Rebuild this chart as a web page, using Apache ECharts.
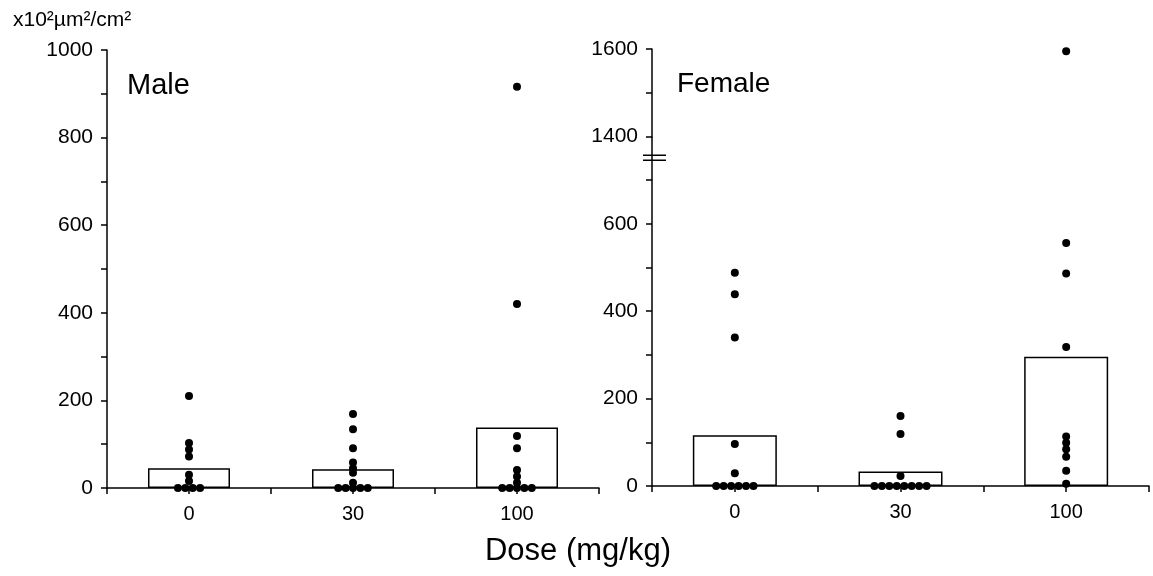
<!DOCTYPE html>
<html>
<head>
<meta charset="utf-8">
<script src="https://cdn.jsdelivr.net/npm/echarts@6/dist/echarts.min.js"></script>
<style>
  html, body { margin: 0; padding: 0; background: #fff; }
  #chart { width: 1153px; height: 576px; }
</style>
</head>
<body>
<div id="chart"></div>
<script>
// Dose groups (x categories)
const doses = ['0', '30', '100'];

// Bar heights (group values), x10^2 µm²/cm²
const maleBars = [45, 43, 138];
const femaleBars = [116, 33, 296];

// Individual animals, one list per dose group
const maleDots0 = [210, 103, 88, 72, 30, 16, 0, 0, 0, 0];
const maleDots30 = [169, 134, 91, 58, 45, 35, 12, 0, 0, 0, 0, 0];
const maleDots100 = [916, 420, 119, 91, 41, 26, 12, 0, 0, 0, 0, 0];
const femaleDots0 = [488, 439, 340, 96, 29, 0, 0, 0, 0, 0, 0];
const femaleDots30 = [160, 119, 23, 0, 0, 0, 0, 0, 0, 0, 0];
const femaleDots100 = [1595, 556, 486, 318, 113, 99, 84, 67, 35, 5];

// Labelled y ticks
const maleYLabels = [0, 200, 400, 600, 800, 1000];
const femaleYLabels = [0, 200, 400, 600, 1400, 1600];

// Female axis break: values between start and end are cut out,
// leaving a gap the size of 100 units on the axis
const femaleBreak = { start: 700, end: 1400, gap: 100 };

const FONT = 'Liberation Sans, Arial, sans-serif';
const DOT_STEP = 0.045; // horizontal spacing of tied zero values, in category units

// Place each dot at its dose position; zero values sit side by side in a row.
function dotPoints(groups) {
  const pts = [];
  groups.forEach((vals, gi) => {
    const zeros = vals.filter(v => v === 0).length;
    let z = 0;
    vals.forEach(v => {
      if (v === 0) {
        pts.push([gi + 1 + (z - (zeros - 1) / 2) * DOT_STEP, v]);
        z++;
      } else {
        pts.push([gi + 1, v]);
      }
    });
  });
  return pts;
}

function barPoints(vals) {
  return vals.map((v, i) => [i + 1, v]);
}

function xAxisFor(gridIndex) {
  return {
    type: 'value', gridIndex,
    min: 0.5, max: 3.5, interval: 0.5,
    splitLine: { show: false },
    axisLine: { show: true, onZero: false, lineStyle: { color: '#000', width: 1.5 } },
    axisTick: { show: true, length: 6, lineStyle: { color: '#000', width: 1.5 } },
    axisLabel: {
      margin: 16, color: '#000', fontFamily: FONT, fontSize: 20,
      showMinLabel: true, showMaxLabel: true,
      formatter: v => {
        const i = Math.round(v);
        return Math.abs(v - i) < 1e-6 && i >= 1 && i <= 3 ? doses[i - 1] : '';
      }
    }
  };
}

function yAxisFor(gridIndex, labels, extra) {
  return Object.assign({
    type: 'value', gridIndex,
    min: 0, interval: 100,
    splitLine: { show: false },
    axisLine: { show: true, lineStyle: { color: '#000', width: 1.5 } },
    axisTick: { show: true, length: 6, lineStyle: { color: '#000', width: 1.5 } },
    axisLabel: {
      margin: 14, color: '#000', fontFamily: FONT, fontSize: 21,
      formatter: v => labels.indexOf(Math.round(v)) >= 0 && Math.abs(v - Math.round(v)) < 1e-6 ? String(Math.round(v)) : ''
    }
  }, extra);
}

const barStyle = { color: 'rgba(255,255,255,0)', borderColor: '#000', borderWidth: 1.5 };
const dotStyle = { color: '#000', opacity: 1 };

const chart = echarts.init(document.getElementById('chart'));

const textGraphics = [
  { type: 'text', id: 'unit', left: 13, top: 10,
    style: { text: 'x10²µm²/cm²', font: '21px ' + FONT, fill: '#000' } },
  { type: 'text', id: 'male', x: 127, y: 86,
    style: { text: 'Male', font: '29px ' + FONT, fill: '#000', verticalAlign: 'middle' } },
  { type: 'text', id: 'female', x: 677, y: 84,
    style: { text: 'Female', font: '28px ' + FONT, fill: '#000', verticalAlign: 'middle' } },
  { type: 'text', id: 'dose', x: 578, y: 551,
    style: { text: 'Dose (mg/kg)', font: '31px ' + FONT, fill: '#000', align: 'center', verticalAlign: 'middle' } }
];

chart.setOption({
  animation: false,
  backgroundColor: '#fff',
  grid: [
    { left: 107, right: 554, top: 50, bottom: 88, outerBoundsMode: 'none' },
    { left: 652, right: 4, top: 49, bottom: 90, outerBoundsMode: 'none' }
  ],
  xAxis: [xAxisFor(0), xAxisFor(1)],
  yAxis: [
    yAxisFor(0, maleYLabels, { max: 1000 }),
    yAxisFor(1, femaleYLabels, {
      max: 1600,
      breaks: [{ start: femaleBreak.start, end: femaleBreak.end, gap: femaleBreak.gap }],
      breakArea: { show: false }
    })
  ],
  series: [
    { type: 'bar', name: 'Male mean', xAxisIndex: 0, yAxisIndex: 0, barWidth: 82,
      data: barPoints(maleBars), itemStyle: barStyle, z: 2 },
    { type: 'scatter', name: 'Male', xAxisIndex: 0, yAxisIndex: 0, symbolSize: 8,
      data: dotPoints([maleDots0, maleDots30, maleDots100]), itemStyle: dotStyle, z: 3 },
    { type: 'bar', name: 'Female mean', xAxisIndex: 1, yAxisIndex: 1, barWidth: 84,
      data: barPoints(femaleBars), itemStyle: barStyle, z: 2 },
    { type: 'scatter', name: 'Female', xAxisIndex: 1, yAxisIndex: 1, symbolSize: 8,
      data: dotPoints([femaleDots0, femaleDots30, femaleDots100]), itemStyle: dotStyle, z: 3 }
  ],
  graphic: textGraphics
});

// Axis line through the break gap, with the "=" break mark across it
const yLow = chart.convertToPixel({ yAxisIndex: 1 }, femaleBreak.start);
const yHigh = chart.convertToPixel({ yAxisIndex: 1 }, femaleBreak.end);
const breakY = (yLow + yHigh) / 2;
const axisX = chart.convertToPixel({ xAxisIndex: 1 }, 0.5);
chart.setOption({
  graphic: textGraphics.concat([
    { type: 'line', id: 'gapAxis', z: 100,
      shape: { x1: axisX, y1: yHigh, x2: axisX, y2: yLow },
      style: { stroke: '#000', lineWidth: 1.5 } },
    { type: 'line', id: 'brk1', z: 100,
      shape: { x1: axisX - 9, y1: breakY - 3, x2: axisX + 14, y2: breakY - 3 },
      style: { stroke: '#000', lineWidth: 1.5 } },
    { type: 'line', id: 'brk2', z: 100,
      shape: { x1: axisX - 9, y1: breakY + 2, x2: axisX + 14, y2: breakY + 2 },
      style: { stroke: '#000', lineWidth: 1.5 } }
  ])
});
</script>
</body>
</html>
